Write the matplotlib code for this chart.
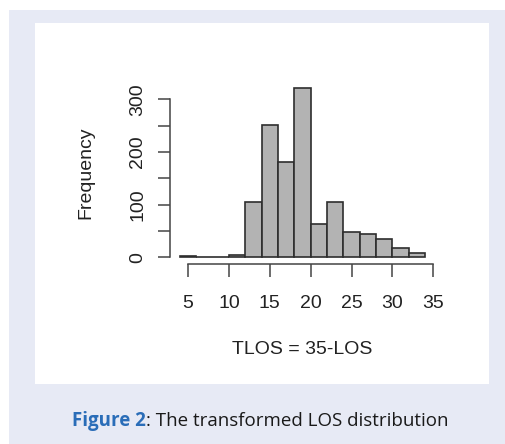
import matplotlib
matplotlib.use("Agg")
import matplotlib.pyplot as plt
from matplotlib.patches import Rectangle
import numpy as np

# Data
bin_edges = [4, 6, 8, 10, 12, 14, 16, 18, 20, 22, 24, 26, 28, 30, 32, 34]
counts = [3, 1, 1, 5, 105, 251, 181, 322, 64, 105, 48, 44, 35, 18, 8]
x_ticks = [5, 10, 15, 20, 25, 30, 35]
y_ticks = [0, 50, 100, 150, 200, 250, 300]
y_tick_labels = ["0", "", "100", "", "200", "", "300"]
x_label = "TLOS = 35-LOS"
y_label = "Frequency"
caption_bold = "Figure 2"
caption_rest = ": The transformed LOS distribution"

W, H = 505, 444
fig = plt.figure(figsize=(W / 100, H / 100), dpi=100)
fig.patch.set_facecolor("white")

# Background panels
bg = Rectangle((9 / W, 0), 1 - 9 / W, 1 - 10 / H, transform=fig.transFigure,
               facecolor="#e7eaf5", edgecolor="none", zorder=-10)
fig.patches.append(bg)
panel = Rectangle((35 / W, 1 - 384 / H), (489 - 35) / W, (384 - 23) / H,
                  transform=fig.transFigure, facecolor="white",
                  edgecolor="none", zorder=-9)
fig.patches.append(panel)

ax = fig.add_axes([170 / W, 1 - 264 / H, (435 - 170) / W, (264 - 80.9) / H])
ax.set_facecolor("none")

widths = np.diff(bin_edges)
ax.bar(bin_edges[:-1], counts, width=widths, align="edge",
       color="#b3b3b3", edgecolor="#2e2e2e", linewidth=1.2)

ax.set_xlim(2.8, 35.2)
ax.set_ylim(-12.88, 334.9)

for s in ["top", "right"]:
    ax.spines[s].set_visible(False)
ax.spines["left"].set_bounds(0, 300)
ax.spines["bottom"].set_bounds(5, 35)
for s in ["left", "bottom"]:
    ax.spines[s].set_color("#444444")
    ax.spines[s].set_linewidth(1.1)

font = "Liberation Sans"
fs = 14
ax.set_xticks(x_ticks)
ax.set_xticklabels([str(v) for v in x_ticks], fontfamily=font, fontsize=fs,
                   color="#222222")
ax.set_yticks(y_ticks)
ax.set_yticklabels(y_tick_labels, fontfamily=font, fontsize=fs,
                   color="#222222", rotation=90, va="center")
ax.tick_params(axis="x", length=9, width=1.1, color="#444444", pad=13)
ax.tick_params(axis="y", length=9, width=1.1, color="#444444", pad=8)

ax.set_xlabel(x_label, fontfamily=font, fontsize=fs, color="#222222",
              labelpad=21.5)
ax.set_ylabel(y_label, fontfamily=font, fontsize=fs, color="#222222",
              labelpad=25)

# Caption
cap_font = "Open Sans"
cfs = 13.5
t1 = fig.text(72 / W, 1 - 421 / H, caption_bold, fontfamily=cap_font,
              fontsize=cfs, fontweight="bold", color="#2a6db8", va="center",
              ha="left")
fig.canvas.draw()
bb = t1.get_window_extent()
fig.text(bb.x1 / W, 1 - 421 / H, caption_rest, fontfamily=cap_font,
         fontsize=cfs, color="#1a1a1a", va="center", ha="left")

fig.savefig("out.png", dpi=100)
